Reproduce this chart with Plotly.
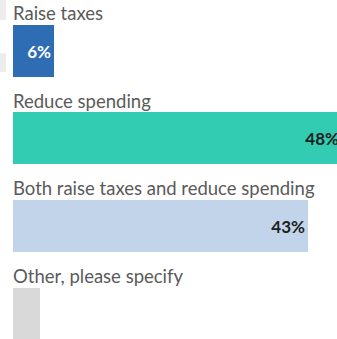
import plotly.graph_objects as go

# Survey responses: how should the budget gap be closed?
categories = [
    "Raise taxes",
    "Reduce spending",
    "Both raise taxes and reduce spending",
    "Other, please specify",
]
shares = [6, 48, 43, 4]
share_labels = ["6%", "48%", "43%", ""]
bar_colors = ["#2E6DB4", "#31CCB2", "#C1D4E9", "#D9D9D9"]
text_colors = ["#FFFFFF", "#1E1E1E", "#1E1E1E", "#1E1E1E"]

W, H = 337, 339
ML = 13
PLOT_W = W - ML
bar_width = 0.593
row_px = 87.7

fig = go.Figure(
    go.Bar(
        x=shares,
        y=categories,
        orientation="h",
        width=bar_width,
        marker=dict(color=bar_colors, line=dict(width=0)),
        text=share_labels,
        textposition="inside",
        insidetextanchor="end",
        textangle=0,
        textfont=dict(family="Lato", size=17, color=text_colors, weight="bold"),
        hoverinfo="skip",
    )
)

# Category captions sit just above each bar
for cat in categories:
    fig.add_annotation(
        x=0, y=cat, xref="x", yref="y",
        text=cat, showarrow=False,
        xanchor="left", yanchor="bottom",
        yshift=bar_width / 2 * row_px - 1.5,
        xshift=-2,
        font=dict(family="Lato", size=18.5, color="#5A5A5A"),
    )

# faint tabs along the left edge
for top, bottom in [(0, 20), (53, 72)]:
    fig.add_shape(
        type="rect", xref="paper", yref="paper",
        x0=-ML / PLOT_W, x1=-7 / PLOT_W,
        y0=1 - bottom / H, y1=1 - top / H,
        fillcolor="#EDEDED", line=dict(width=0), layer="below",
    )

fig.update_layout(
    width=W, height=H,
    margin=dict(l=ML, r=0, t=0, b=0),
    paper_bgcolor="white", plot_bgcolor="white",
    showlegend=False,
    bargap=0,
    xaxis=dict(range=[0, 47.3], visible=False, fixedrange=True),
    yaxis=dict(
        type="category",
        range=[3.29, -0.576],
        visible=False,
        fixedrange=True,
    ),
)

fig.write_html("out.html", config={"displayModeBar": False})
